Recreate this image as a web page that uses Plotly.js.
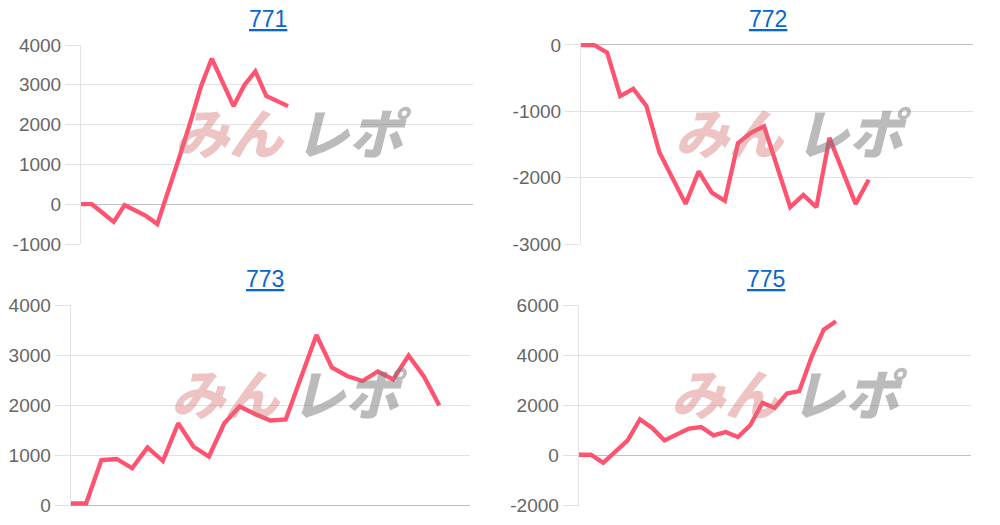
<!DOCTYPE html>
<html>
<head>
<meta charset="utf-8">
<script src="https://cdn.plot.ly/plotly-3.0.1.min.js"></script>
<style>
  html, body { margin: 0; padding: 0; background: #fff; }
  #chart { width: 1000px; height: 525px; }
</style>
</head>
<body>
<div id="chart"></div>
<script>
// ---- data ----
const titles = ["771", "772", "773", "775"];
const slotCounts = [37, 31, 27, 33];   // number of x slots on each panel's category axis
const series771 = [0, 0, -220, -445, -20, -150, -300, -500, 310, 1160, 2030, 2950, 3660, 3070, 2465, 2995, 3340, 2720, 2600, 2465];
const series772 = [0, 0, -115, -770, -660, -920, -1620, -2000, -2395, -1905, -2225, -2350, -1480, -1325, -1225, -1835, -2445, -2260, -2445, -1400, -1900, -2395, -2030];
const series773 = [30, 30, 900, 920, 735, 1150, 880, 1635, 1165, 970, 1635, 1970, 1820, 1690, 1710, 2550, 3400, 2750, 2580, 2480, 2670, 2510, 2990, 2570, 1990];
const series775 = [30, 30, -295, 175, 605, 1450, 1100, 605, 845, 1075, 1140, 805, 940, 740, 1210, 2105, 1905, 2485, 2575, 3930, 5035, 5370];
const allSeries = [series771, series772, series773, series775];
const yTickValues = [
  [-1000, 0, 1000, 2000, 3000, 4000],
  [-3000, -2000, -1000, 0],
  [0, 1000, 2000, 3000, 4000],
  [-2000, 0, 2000, 4000, 6000]
];
const watermarkLeft = "みん";
const watermarkRight = "レポ";

// ---- layout helpers (pixel geometry of the figure) ----
const W = 1000, H = 525;
const fx = p => p / W;
const fy = p => 1 - p / H;

// pixel boxes of each plot area: [left, right, top, bottom]
const boxes = [
  [81, 473.3, 45, 244],
  [581, 973.3, 43.0, 244],
  [70.7, 470, 305, 507],
  [578.7, 970.7, 305.5, 505.5]
];
const yRanges = [[-1000, 4000], [-3000, 30], [-40, 4000], [-2000, 6000]];
const titleCenters = [[267.5, 19], [768, 19], [265, 279], [765.7, 279]];
const panelOffsets = [[0, 0], [500, 0], [-4, 260], [496, 260]];

const lineColor = "rgb(255,83,112)";
const gridColor = "#e2e2e2";
const zeroColor = "#c0c0c0";
const tickFont = { family: "Liberation Sans, Arial, sans-serif", size: 19, color: "#666666" };

const data = [];
const layout = {
  width: W, height: H,
  margin: { l: 0, r: 0, t: 0, b: 0, pad: 0 },
  paper_bgcolor: "#ffffff",
  plot_bgcolor: "rgba(0,0,0,0)",
  showlegend: false,
  annotations: []
};

allSeries.forEach((vals, i) => {
  const n = i + 1;
  const xs = vals.map((_, k) => k);
  const xa = "x" + (n === 1 ? "" : n);
  const ya = "y" + (n === 1 ? "" : n);
  data.push({
    type: "scatter", mode: "lines",
    x: xs, y: vals,
    xaxis: xa, yaxis: ya,
    line: { color: lineColor, width: 4.3, shape: "linear" },
    hoverinfo: "skip"
  });
  const b = boxes[i];
  layout["xaxis" + (n === 1 ? "" : n)] = {
    domain: [fx(b[0]), fx(b[1])],
    anchor: ya,
    range: [0, slotCounts[i] - 1],
    showgrid: false, zeroline: false, showline: false,
    showticklabels: false, ticks: "", fixedrange: true
  };
  layout["yaxis" + (n === 1 ? "" : n)] = {
    domain: [fy(b[3]), fy(b[2])],
    anchor: xa,
    range: yRanges[i],
    tickmode: "array",
    tickvals: yTickValues[i],
    ticktext: yTickValues[i].map(String),
    showgrid: true, gridcolor: gridColor, gridwidth: 1,
    zeroline: true, zerolinecolor: zeroColor, zerolinewidth: 1,
    showline: true, linecolor: gridColor, linewidth: 1,
    ticks: "outside", ticklen: 15, tickcolor: gridColor, tickwidth: 1,
    tickfont: tickFont,
    layer: "below traces",
    fixedrange: true
  };
  const tc = titleCenters[i];
  layout.annotations.push({
    xref: "paper", yref: "paper",
    x: fx(tc[0]), y: fy(tc[1]),
    xanchor: "center", yanchor: "middle",
    text: "<u>" + titles[i] + "</u>",
    showarrow: false,
    font: { family: "Liberation Sans, Arial, sans-serif", size: 23, color: "#0a66cc" }
  });
  const off = panelOffsets[i];
  layout.annotations.push({
    xref: "paper", yref: "paper",
    x: fx(230 + off[0]), y: fy(131 + off[1]),
    xanchor: "center", yanchor: "middle",
    text: watermarkLeft, showarrow: false,
    font: { family: "Noto Sans CJK JP", size: 54, weight: 900, style: "italic", color: "rgba(213,111,115,0.42)" }
  });
  layout.annotations.push({
    xref: "paper", yref: "paper",
    x: fx(353 + off[0]), y: fy(131 + off[1]),
    xanchor: "center", yanchor: "middle",
    text: watermarkRight, showarrow: false,
    font: { family: "Noto Sans CJK JP", size: 54, weight: 900, style: "italic", color: "rgba(120,120,120,0.5)" }
  });
});

Plotly.newPlot("chart", data, layout, { displayModeBar: false, staticPlot: true });
</script>
</body>
</html>
